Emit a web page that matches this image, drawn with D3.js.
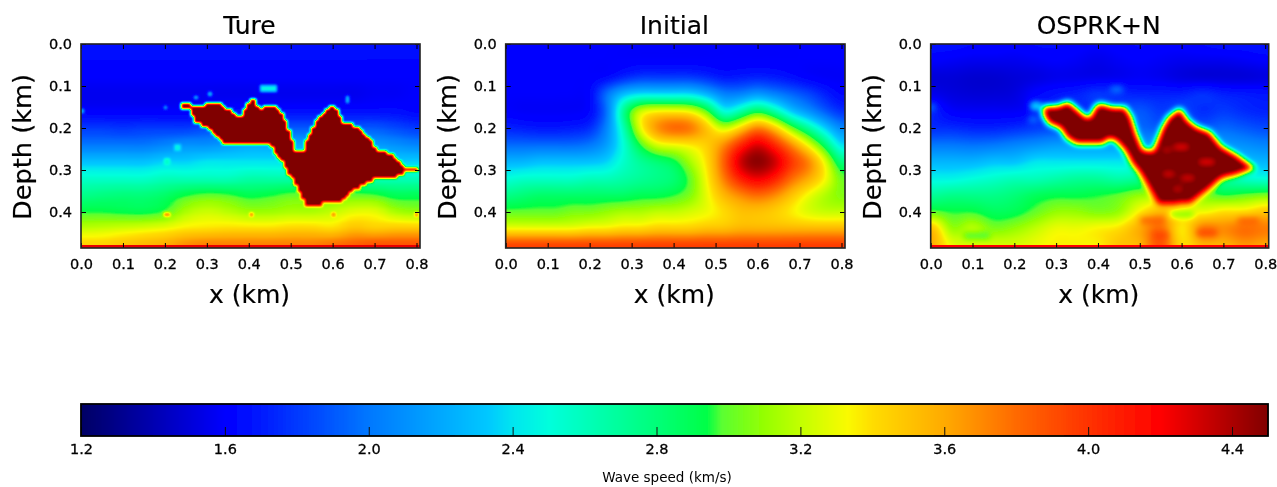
<!DOCTYPE html>
<html><head><meta charset="utf-8">
<script src="https://cdn.jsdelivr.net/npm/d3@7"></script>
<style>html,body{margin:0;padding:0;background:#fff}svg{display:block}text{font-family:"DejaVu Sans",sans-serif;fill:#000}</style>
</head><body><svg id="c" width="1277" height="487"></svg>
<script>
const titles=["Ture","Initial","OSPRK+N"];
const xTicks=[0,0.1,0.2,0.3,0.4,0.5,0.6,0.7,0.8];
const depthTicks=[0,0.1,0.2,0.3,0.4];
const cbTicks=[1.2,1.6,2.0,2.4,2.8,3.2,3.6,4.0,4.4];
const depthStep=0.04;
// colour map
const stopV=[1.2,1.6,1.65,2.0,2.33,2.4,2.5,2.8,2.94,2.98,3.1,3.2,3.33,3.4,3.6,3.8,4.0,4.2,4.5];
const stopR=[0,0,0,0,0,0,0,0,0,90,150,195,250,255,255,255,255,255,128];
const stopG=[0,0,10,120,200,230,255,255,255,255,255,255,250,220,170,105,50,0,0];
const stopB=[100,255,255,255,255,240,220,120,70,50,0,0,0,0,0,0,0,0,0];
// background wave speed (km/s): rows every 0.04 km of depth
const trueBg=[
[1.66,1.66,1.66,1.66,1.66,1.66,1.66,1.66,1.66,1.66,1.66,1.66,1.66,1.66,1.66,1.66,1.66],
[1.63,1.63,1.63,1.63,1.63,1.63,1.63,1.63,1.63,1.63,1.63,1.63,1.63,1.63,1.63,1.63,1.63],
[1.6,1.6,1.6,1.6,1.6,1.6,1.6,1.6,1.6,1.6,1.6,1.6,1.6,1.6,1.6,1.6,1.6],
[1.56,1.56,1.56,1.56,1.56,1.56,1.56,1.56,1.56,1.56,1.56,1.56,1.56,1.56,1.58,1.58,1.6],
[1.6,1.6,1.6,1.6,1.6,1.6,1.62,1.65,1.65,1.65,1.65,1.65,1.65,1.65,1.65,1.65,1.62],
[1.8,1.8,1.78,1.8,1.8,1.8,1.85,1.9,1.9,1.9,1.9,1.9,1.9,1.9,1.9,1.85,1.8],
[2.0,2.0,2.0,2.0,2.05,2.1,2.1,2.15,2.2,2.2,2.2,2.2,2.2,2.2,2.15,2.1,2.05],
[2.3,2.3,2.3,2.3,2.35,2.35,2.4,2.4,2.4,2.4,2.4,2.4,2.4,2.4,2.4,2.35,2.35],
[2.55,2.55,2.55,2.55,2.6,2.6,2.6,2.6,2.65,2.65,2.65,2.65,2.65,2.65,2.6,2.6,2.6],
[2.75,2.78,2.8,2.8,2.85,2.95,3.0,2.98,2.92,2.95,3.0,3.0,3.0,3.0,2.98,2.9,2.9],
[2.95,2.95,2.93,2.92,2.98,3.15,3.22,3.18,3.12,3.12,3.15,3.15,3.2,3.28,3.28,3.15,3.1],
[3.2,3.22,3.25,3.28,3.32,3.38,3.4,3.42,3.42,3.42,3.45,3.45,3.42,3.52,3.48,3.5,3.5],
[3.45,3.45,3.5,3.55,3.6,3.7,3.75,3.75,3.75,3.75,3.75,3.75,3.8,3.85,3.9,3.9,3.9]];
const initialGrid=[
[1.6,1.6,1.6,1.6,1.6,1.6,1.6,1.6,1.6,1.6,1.6,1.6,1.6,1.6,1.6,1.6,1.6,1.6,1.6,1.6,1.6],
[1.6,1.6,1.6,1.6,1.6,1.6,1.6,1.6,1.6,1.6,1.6,1.6,1.6,1.6,1.6,1.6,1.6,1.6,1.6,1.6,1.6],
[1.6,1.6,1.6,1.6,1.6,1.6,1.62,1.72,1.8,1.8,1.8,1.8,1.75,1.68,1.7,1.72,1.7,1.65,1.6,1.58,1.58],
[1.6,1.6,1.6,1.6,1.6,1.62,2.0,2.3,2.4,2.4,2.4,2.4,2.25,2.05,2.05,2.15,2.05,1.95,1.85,1.72,1.62],
[1.6,1.58,1.58,1.58,1.58,1.62,1.95,2.75,3.25,3.35,3.35,3.3,3.0,2.45,2.65,2.9,2.65,2.3,2.1,1.9,1.75],
[1.72,1.7,1.68,1.68,1.7,1.75,2.05,2.6,3.3,3.7,3.85,3.8,3.5,3.2,3.45,3.75,3.5,3.05,2.7,2.35,2.05],
[1.95,1.95,1.95,1.95,1.95,2.0,2.15,2.5,2.95,3.25,3.3,3.35,3.45,3.7,4.05,4.3,4.05,3.7,3.3,2.85,2.35],
[2.25,2.25,2.3,2.3,2.3,2.3,2.35,2.55,2.7,2.8,2.9,3.15,3.4,3.85,4.35,4.5,4.35,4.0,3.75,3.3,2.75],
[2.5,2.55,2.55,2.55,2.55,2.6,2.6,2.65,2.7,2.75,2.8,3.0,3.35,3.75,4.1,4.25,4.1,3.8,3.6,3.35,3.0],
[2.75,2.8,2.85,2.85,2.85,2.85,2.85,2.85,2.9,2.9,2.95,3.05,3.3,3.55,3.7,3.8,3.7,3.5,3.3,3.15,3.05],
[3.0,3.0,3.0,3.0,3.05,3.05,3.1,3.15,3.15,3.2,3.2,3.25,3.3,3.4,3.5,3.5,3.45,3.35,3.25,3.2,3.2],
[3.3,3.3,3.3,3.3,3.3,3.35,3.35,3.4,3.4,3.45,3.45,3.45,3.5,3.5,3.55,3.55,3.55,3.55,3.55,3.55,3.55],
[4.0,4.0,4.0,4.0,4.0,4.0,4.0,4.0,4.0,4.0,4.0,4.0,4.0,4.0,4.0,4.0,4.0,4.0,4.0,4.0,4.0]];
const osprkBg=[
[1.66,1.66,1.64,1.64,1.62,1.64,1.64,1.62,1.6,1.62,1.64,1.62,1.62,1.64,1.66,1.66,1.68],
[1.6,1.58,1.56,1.56,1.56,1.58,1.6,1.58,1.55,1.58,1.6,1.58,1.56,1.56,1.56,1.58,1.6],
[1.5,1.5,1.48,1.48,1.5,1.52,1.55,1.55,1.55,1.56,1.58,1.56,1.52,1.5,1.5,1.5,1.52],
[1.56,1.52,1.5,1.5,1.52,1.62,1.68,1.72,1.8,1.75,1.72,1.72,1.72,1.78,1.72,1.7,1.68],
[1.72,1.6,1.58,1.58,1.58,1.62,1.75,1.75,1.75,1.8,1.9,1.8,1.85,1.75,1.8,1.75,1.72],
[1.75,1.75,1.72,1.72,1.75,1.8,1.85,1.9,1.9,1.9,1.95,1.9,1.9,1.9,1.95,1.9,1.85],
[2.0,2.0,1.98,2.0,2.05,2.1,2.15,2.15,2.15,2.15,2.15,2.15,2.2,2.2,2.15,2.1,2.05],
[2.25,2.25,2.25,2.3,2.3,2.4,2.4,2.4,2.4,2.4,2.4,2.4,2.4,2.4,2.35,2.3,2.25],
[2.45,2.45,2.5,2.55,2.6,2.6,2.65,2.7,2.7,2.65,2.7,2.7,2.7,2.7,2.65,2.55,2.5],
[2.7,2.75,2.75,2.75,2.8,2.88,2.92,2.92,2.95,3.0,3.1,3.1,3.1,3.05,2.95,3.0,3.05],
[3.0,2.95,2.95,2.88,2.9,3.0,3.1,3.1,3.05,3.1,3.35,3.55,3.4,3.3,3.4,3.4,3.5],
[3.55,3.1,3.2,3.05,3.1,3.2,3.3,3.3,3.35,3.4,3.6,3.8,3.35,3.75,3.7,3.8,3.75],
[3.6,3.3,3.25,3.25,3.25,3.3,3.35,3.35,3.35,3.5,3.55,3.9,3.4,3.55,3.55,3.65,3.6]];
// salt body outlines [x km, depth km]
const trueSalt=[[.233,.137],[.249,.135],[.265,.145],[.305,.143],[.337,.140],[.348,.153],[.364,.161],[.380,.177],[.392,.149],[.404,.129],[.416,.129],[.420,.145],[.432,.153],[.436,.145],[.464,.145],[.484,.169],[.496,.201],[.508,.240],[.516,.258],[.528,.258],[.544,.213],[.560,.181],[.584,.161],[.597,.145],[.612,.161],[.628,.187],[.652,.193],[.675,.207],[.703,.248],[.735,.260],[.771,.292],[.803,.300],[.771,.306],[.751,.320],[.699,.320],[.675,.336],[.652,.348],[.616,.379],[.538,.383],[.516,.344],[.500,.316],[.476,.276],[.452,.244],[.444,.233],[.432,.240],[.348,.240],[.317,.217],[.305,.201],[.277,.190],[.261,.161],[.237,.151]];
const osprkSalt=[[.268,.149],[.301,.148],[.329,.137],[.349,.153],[.373,.175],[.381,.173],[.393,.149],[.405,.141],[.437,.151],[.465,.149],[.480,.173],[.492,.213],[.508,.252],[.532,.254],[.552,.201],[.568,.173],[.596,.153],[.616,.181],[.636,.197],[.668,.209],[.696,.244],[.731,.264],[.775,.296],[.731,.312],[.696,.320],[.668,.344],[.620,.379],[.544,.381],[.524,.348],[.500,.308],[.480,.284],[.465,.256],[.445,.233],[.429,.225],[.413,.237],[.349,.238],[.325,.225],[.309,.201],[.281,.190],[.268,.169]];
// small anomalies [x, depth, half-width km, speed]
const trueSpots=[[.203,.149,.005,2.35],[.277,.125,.004,2.35],[.309,.117,.004,2.35],[.637,.132,.005,2.4],[.004,.157,.003,2.3],[.447,.108,.017,2.45],[.205,.403,.005,3.85],[.404,.403,.004,3.95],[.604,.403,.004,3.95],[.803,.403,.004,3.9],[.23,.245,.008,2.45],[.205,.277,.007,2.55]];
const osprkSpots=[[.60,.245,.018,4.2],[.565,.252,.01,4.3],[.66,.282,.02,4.2],[.57,.31,.014,4.25],[.615,.32,.016,4.25],[.59,.345,.012,4.3],[.25,.148,.012,2.75],[.245,.178,.01,2.05],[.445,.108,.014,2.05],[.005,.15,.006,2.0],[.6,.406,.028,2.95],[.53,.42,.03,3.85],[.76,.42,.025,3.85],[.55,.455,.02,3.95],[.66,.45,.025,3.95],[.11,.458,.03,2.9]];
const bandDepths=[.479,.479];
const bandSpeeds=[4.25,4.2];

const svg=d3.select("#c");
const defs=svg.append("defs");
defs.append("filter").attr("id","soft").attr("x",0).attr("y",0).attr("width",1).attr("height",1)
  .append("feGaussianBlur").attr("stdDeviation",.45);
const root=svg.append("g").attr("filter","url(#soft)");

const chan=a=>d3.scaleLinear(stopV,a).clamp(true);
const jetR=chan(stopR),jetG=chan(stopG),jetB=chan(stopB);
const rgbOf=v=>[jetR(v),jetG(v),jetB(v)];

function cr(a,b,c,d,t){return .5*(2*b+(c-a)*t+(2*a-5*b+4*c-d)*t*t+(3*b-a-3*c+d)*t*t*t);}
function sample(g,x,d){
  const nc=g[0].length,nr=g.length,dx=.8/(nc-1);
  const u=Math.min(Math.max(x/dx,0),nc-1.0001),w=Math.min(Math.max(d/depthStep,0),nr-1.0001);
  const i=Math.floor(u),j=Math.floor(w),fx=u-i,fy=w-j,col=[];
  for(let r=j-1;r<=j+2;r++){const R=g[Math.max(0,Math.min(nr-1,r))];
    col.push(cr(R[Math.max(0,i-1)],R[i],R[i+1],R[Math.min(nc-1,i+2)],fx));}
  return cr(col[0],col[1],col[2],col[3],fy);
}
const panels=[
 {left:81,right:420,grid:trueBg,salt:trueSalt,spots:trueSpots,cell:.0082,blur:.8,band:0},
 {left:505.7,right:845,grid:initialGrid,salt:null,spots:[],cell:0,blur:4,band:-1},
 {left:930.7,right:1268.7,grid:osprkBg,salt:osprkSalt,spots:osprkSpots,cell:0,blur:2.6,band:1}];
const plotTop=44,plotBottom=248;
panels.forEach((p,k)=>{
  const width=Math.round(p.right-p.left),height=plotBottom-plotTop;
  const x=d3.scaleLinear([0,.8],[0,(p.right-p.left)*(335.5/339)]);
  const y=d3.scaleLinear([0,.4],[0,168]);
  const data=new Float32Array(width*height);
  for(let j=0;j<height;j++)for(let i=0;i<width;i++){
    let a=x.invert(i+.5),b=y.invert(j+.5);
    if(p.cell){a=(Math.floor(a/p.cell)+.5)*p.cell;b=(Math.floor(b/p.cell)+.5)*p.cell;}
    let v=sample(p.grid,a,b);
    if(p.salt&&d3.polygonContains(p.salt,[a,b]))v=4.55;
    for(const s of p.spots){if(Math.abs(a-s[0])<=s[2]&&Math.abs(b-s[1])<=Math.max(.004,Math.min(s[2],.007)))v=s[3];}
    data[j*width+i]=v;
  }
  if(p.blur)d3.blur2({data,width,height},p.blur);
  if(p.band>=0)for(let j=0;j<height;j++){if(y.invert(j+.5)>=bandDepths[p.band])for(let i=0;i<width;i++)data[j*width+i]=bandSpeeds[p.band];}
  const cv=document.createElement("canvas");cv.width=width;cv.height=height;
  const ctx=cv.getContext("2d"),im=ctx.createImageData(width,height);
  data.forEach((v,n)=>{const c=rgbOf(v);im.data[n*4]=c[0];im.data[n*4+1]=c[1];im.data[n*4+2]=c[2];im.data[n*4+3]=255;});
  ctx.putImageData(im,0,0);
  const g=root.append("g").attr("transform",`translate(${p.left},${plotTop})`);
  g.append("image").attr("href",cv.toDataURL()).attr("width",p.right-p.left).attr("height",height).attr("preserveAspectRatio","none");
  const fmt=d3.format(".1f");
  const W2=p.right-p.left;
  const ax=(gen,tr,lab)=>{const a=g.append("g").attr("transform",tr).call(gen);a.select(".domain").remove();
    a.selectAll("line").attr("stroke","#000").attr("stroke-width",1);a.selectAll("text").attr("font-size",14.5).attr("font-family",'"DejaVu Sans"').attr("stroke","#000").attr("stroke-width",.3);if(!lab)a.selectAll("text").remove();return a;};
  ax(d3.axisBottom(x).tickValues(xTicks).tickFormat(fmt).tickSizeInner(-5).tickPadding(11).tickSizeOuter(0),`translate(0,${height})`,true);
  ax(d3.axisTop(x).tickValues(xTicks).tickFormat(fmt).tickSizeInner(-5).tickSizeOuter(0),"translate(0,0)",false);
  ax(d3.axisLeft(y).tickValues(depthTicks).tickFormat(fmt).tickSizeInner(-5).tickPadding(9).tickSizeOuter(0),"translate(0,0)",true);
  ax(d3.axisRight(y).tickValues(depthTicks).tickFormat(fmt).tickSizeInner(-5).tickSizeOuter(0),`translate(${W2},0)`,false);
  g.append("rect").attr("width",W2).attr("height",height).attr("fill","none").attr("stroke","#222").attr("stroke-width",1.6);
  g.append("text").attr("x",W2/2-1).attr("y",-10).attr("text-anchor","middle").attr("font-size",25).attr("stroke","#000").attr("stroke-width",.2).text(titles[k]);
  g.append("text").attr("x",W2/2-1).attr("y",259).attr("text-anchor","middle").attr("font-size",25).attr("stroke","#000").attr("stroke-width",.2).text("x (km)");
  g.append("text").attr("transform",`translate(-50,${height/2+1}) rotate(-90)`).attr("text-anchor","middle").attr("font-size",25).attr("stroke","#000").attr("stroke-width",.2).attr("textLength",146).attr("lengthAdjust","spacingAndGlyphs").text("Depth (km)");
});
// colour bar
const cbx=d3.scaleLinear([1.2,4.5],[81,1268]);
const cbTop=404,cbBot=436;
const cbVals=d3.range(81,1268).map(px=>cbx.invert(px));
root.append("g").selectAll("rect").data(cbVals).join("rect")
  .attr("x",v=>Math.round(cbx(v))).attr("y",cbTop).attr("width",1.2).attr("height",cbBot-cbTop)
  .attr("fill",v=>{const c=rgbOf(v);return `rgb(${c.map(Math.round)})`;});
const cg=root.append("g").attr("transform",`translate(0,${cbBot})`)
  .call(d3.axisBottom(cbx).tickValues(cbTicks).tickFormat(d3.format(".1f")).tickSizeInner(-9).tickPadding(8).tickSizeOuter(0));
cg.select(".domain").remove();
cg.selectAll("line").attr("stroke","#111").attr("stroke-width",1);
cg.selectAll("text").attr("font-size",14.5).attr("font-family",'"DejaVu Sans"').attr("stroke","#000").attr("stroke-width",.3);
root.append("rect").attr("x",81).attr("y",cbTop).attr("width",1187).attr("height",cbBot-cbTop).attr("fill","none").attr("stroke","#000").attr("stroke-width",1.8);
root.append("text").attr("x",667).attr("y",482).attr("text-anchor","middle").attr("font-size",13.5).text("Wave speed (km/s)");
</script></body></html>
